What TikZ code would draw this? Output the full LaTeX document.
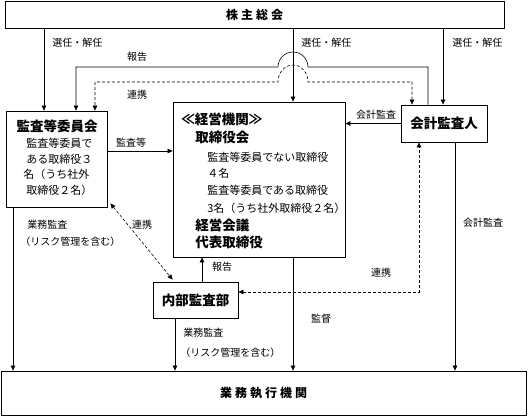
\documentclass[tikz,border=0pt]{standalone}
\usepackage{fontspec}
\setmainfont{Noto Sans CJK JP}
\usetikzlibrary{arrows.meta}

\begin{document}
\begin{tikzpicture}[x=1pt,y=1pt,line width=0.6pt,>={Triangle[length=5pt,width=4.5pt]},
    box/.style={draw,line width=0.8pt,inner sep=0pt},
    lbl/.style={font=\fontsize{10}{12}\selectfont,inner sep=0pt},
    txt/.style={font=\fontsize{11}{13}\selectfont,inner sep=0pt,anchor=west},
    ttl/.style={font=\fontsize{13.5}{15}\selectfont\bfseries,inner sep=0pt},
    link/.style={dash pattern=on 3pt off 2pt}]
    \useasboundingbox (0,0) rectangle (529,-417);

    % boxes
    \node[box,minimum width=499pt,minimum height=27pt,font=\fontsize{12}{14}\selectfont\bfseries]
        (soukai) at (254.5,-14.5) {株\hspace{3pt}主\hspace{3pt}総\hspace{3pt}会};
    \node[box,minimum width=101pt,minimum height=96pt] (audit) at (56.5,-159) {};
    \node[box,minimum width=172pt,minimum height=155pt] (mgmt) at (259,-179.5) {};
    \node[box,minimum width=86pt,minimum height=37pt,ttl] (auditor) at (444,-123.5) {会計監査人};
    \node[box,minimum width=85pt,minimum height=36pt,ttl] (internal) at (195.5,-300) {内部監査部};
    \node[box,minimum width=525pt,minimum height=44pt,font=\fontsize{12}{14}\selectfont\bfseries]
        (exec) at (263.5,-393) {業\hspace{3pt}務\hspace{3pt}執\hspace{3pt}行\hspace{3pt}機\hspace{3pt}関};

    % texts in boxes
    \node[ttl] (auditttl) at (57,-126) {監査等委員会};
    \node[txt] (audit1) at (26,-143) {監査等委員で};
    \node[txt] (audit2) at (26,-159) {ある取締役３};
    \node[txt] (audit3) at (23,-174) {名（うち社外};
    \node[txt] (audit4) at (26,-190) {取締役２名）};
    \node[ttl,anchor=west] (mgmtttl) at (181,-119) {≪経営機関≫};
    \node[ttl,anchor=west] (board) at (195,-137) {取締役会};
    \node[txt] (board1) at (207,-157) {監査等委員でない取締役};
    \node[txt] (board2) at (207,-173) {４名};
    \node[txt] (board3) at (207,-190) {監査等委員である取締役};
    \node[txt] (board4) at (207,-208) {3名（うち社外取締役２名）};
    \node[ttl,anchor=west] (council) at (195,-225) {経営会議};
    \node[ttl,anchor=west] (ceo) at (195,-242) {代表取締役};

    % from the general meeting
    \draw[->] (soukai.south -| 44,0) -- (audit.north -| 44,0);
    \draw[->] (soukai.south -| 293,0) -- (mgmt.north -| 293,0);
    \draw[->] (soukai.south -| 443,0) -- (auditor.north -| 443,0);
    \node[lbl,right] (sen1) at (52,-43) {選任・解任};
    \node[lbl,right] (sen2) at (301,-43) {選任・解任};
    \node[lbl,right] (sen3) at (452,-43) {選任・解任};

    % report and cooperation over the top
    \draw[->] (auditor.north -| 428,0) -- (428,-67) -- (308,-67) arc (0:180:15)
        -- (76,-67) -- (audit.north -| 76,0);
    \draw[<->,link] (auditor.north -| 412,0) -- (412,-82) -- (308,-82)
        arc[start angle=0,end angle=180,x radius=15,y radius=17] -- (95,-82) -- (audit.north -| 95,0);
    \node[lbl] (rep1) at (137,-57) {報告};
    \node[lbl] (coop1) at (137,-95) {連携};

    \draw[->] (audit.east |- 0,-151) -- (mgmt.west |- 0,-151);
    \node[lbl] (kansa) at (131,-143) {監査等};
    \draw[->] (auditor.west) -- (mgmt.east |- auditor.west);
    \node[lbl] (kaikei1) at (376,-115) {会計監査};

    % audit committee and internal audit
    \draw[->] (audit.south -| 13,0) -- (exec.north -| 13,0);
    \node[lbl,right] (gyomu1) at (27,-225) {業務監査};
    \node[lbl,right] (risk1) at (20,-242) {（リスク管理を含む）};
    \draw[<->,link] ([shift={(3,4)}]audit.south east) -- ([shift={(20,2)}]internal.north west);
    \node[lbl] (coop2) at (142,-225) {連携};
    \draw[->] (internal.north -| 202,0) -- (mgmt.south -| 202,0);
    \node[lbl] (rep2) at (222,-267) {報告};
    \draw[<->,link] (internal.east |- 0,-292) -- (419,-292) -- (auditor.south -| 419,0);
    \node[lbl] (coop3) at (381,-273) {連携};

    % down to the business units
    \draw[->] (internal.south -| 175,0) -- (exec.north -| 175,0);
    \node[lbl,right] (gyomu2) at (183,-333) {業務監査};
    \node[lbl,right] (risk2) at (180,-353) {（リスク管理を含む）};
    \draw[->] (mgmt.south -| 293,0) -- (exec.north -| 293,0);
    \node[lbl] (kantoku) at (321,-319) {監督};
    \draw[->] (auditor.south -| 455,0) -- (exec.north -| 455,0);
    \node[lbl] (kaikei2) at (483,-223) {会計監査};
\end{tikzpicture}
\end{document}
